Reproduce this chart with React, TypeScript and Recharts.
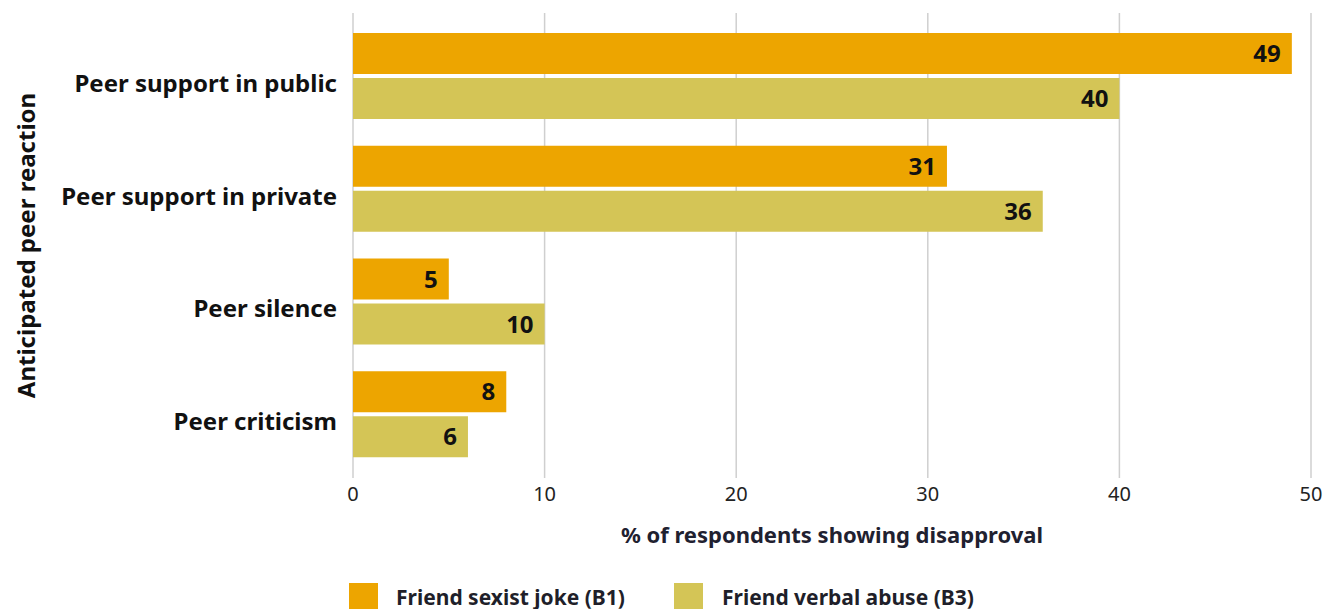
import { BarChart, Bar, XAxis, YAxis, CartesianGrid, Legend, LabelList, Label } from 'recharts';

const categories = ['Peer support in public', 'Peer support in private', 'Peer silence', 'Peer criticism'];
const sexistJoke = [49, 31, 5, 8];
const verbalAbuse = [40, 36, 10, 6];
const xTicks = [0, 10, 20, 30, 40, 50];

const seriesNames = ['Friend sexist joke (B1)', 'Friend verbal abuse (B3)'];
const colors = ['#EDA500', '#D4C556'];

const data = categories.map((name, i) => ({ name, b1: sexistJoke[i], b3: verbalAbuse[i] }));

const font = '"Noto Sans", sans-serif';

// y tick labels sit a bit below the band centre in the original
const CategoryTick = ({ x, y, payload }: any) => (
    <text x={x - 14} y={y + 7} dy="0.355em" textAnchor="end" fontFamily={font} fontSize={24} fontWeight={700} fill="#111">
        {payload.value}
    </text>
);

const YTitle = ({ viewBox }: any) => {
    const cy = viewBox.y + viewBox.height / 2;
    return (
        <text x={25} y={cy} transform={`rotate(-90 25 ${cy})`} textAnchor="middle" dominantBaseline="central"
            fontFamily={font} fontSize={24} fontWeight={700} fill="#111">
            Anticipated peer reaction
        </text>
    );
};

const LegendBox = () => (
    <div style={{ position: 'relative', height: 56, fontFamily: font }}>
        {seriesNames.map((n, i) => (
            <div key={n} style={{ position: 'absolute', left: i === 0 ? 349 : 674, top: 30, display: 'flex', alignItems: 'flex-start' }}>
                <div style={{ width: 29, height: 29, background: colors[i] }} />
                <span style={{ marginLeft: i === 0 ? 18 : 19, fontSize: 21, fontWeight: 700, color: '#1f1f2a', lineHeight: '26px', marginTop: 1 }}>{n}</span>
            </div>
        ))}
    </div>
);

export default function App() {
    return (
        <div style={{ position: 'absolute', left: 0, top: 0, background: '#fff' }}>
            <BarChart width={1325} height={609} data={data} layout="vertical"
                margin={{ top: 13, right: 14, left: 0, bottom: 0 }} barSize={41} barGap={4}>
                <CartesianGrid horizontal={false} stroke="#cfcfcf" strokeWidth={1.5} />
                <XAxis type="number" domain={[0, 50]} ticks={xTicks} axisLine={false} tickLine={false} tickSize={0} tickMargin={9}
                    height={75} tick={{ fontFamily: font, fontSize: 20, fill: '#222' }}>
                    <Label value="% of respondents showing disapproval" position="insideBottom" offset={10}
                        style={{ fontFamily: font, fontSize: 22, fontWeight: 700, fill: '#1f2130' }} />
                </XAxis>
                <YAxis type="category" dataKey="name" width={353} axisLine={false} tickLine={false} tickSize={0}
                    padding={{ top: 7, bottom: 7 }} tick={<CategoryTick />} interval={0}>
                    <Label content={<YTitle />} />
                </YAxis>
                <Legend verticalAlign="bottom" content={<LegendBox />} />
                <Bar dataKey="b1" name={seriesNames[0]} fill={colors[0]} isAnimationActive={false}>
                    <LabelList dataKey="b1" position="insideRight" offset={11}
                        style={{ fontFamily: font, fontSize: 24, fontWeight: 700, fill: '#111' }} />
                </Bar>
                <Bar dataKey="b3" name={seriesNames[1]} fill={colors[1]} isAnimationActive={false}>
                    <LabelList dataKey="b3" position="insideRight" offset={11}
                        style={{ fontFamily: font, fontSize: 24, fontWeight: 700, fill: '#111' }} />
                </Bar>
            </BarChart>
        </div>
    );
}
